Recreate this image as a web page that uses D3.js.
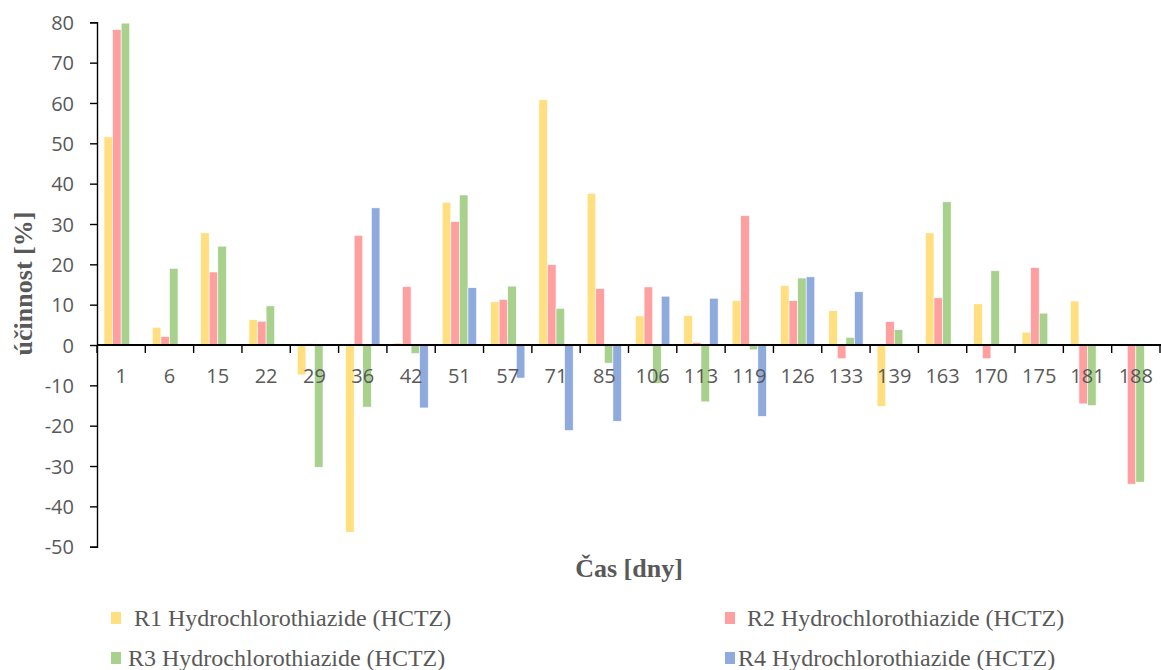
<!DOCTYPE html>
<html>
<head>
<meta charset="utf-8">
<script src="https://cdn.jsdelivr.net/npm/d3@7"></script>
<style>
  html, body { margin: 0; padding: 0; background: #fff; }
  svg { display: block; }
</style>
</head>
<body>
<svg id="chart" width="1161" height="670"></svg>
<script>
const categories = ["1","6","15","22","29","36","42","51","57","71","85","106","113","119","126","133","139","163","170","175","181","188"];
const seriesNames = ["R1 Hydrochlorothiazide (HCTZ)","R2 Hydrochlorothiazide (HCTZ)","R3 Hydrochlorothiazide (HCTZ)","R4 Hydrochlorothiazide (HCTZ)"];
const seriesColors = ["#FFDF80","#FF9F9F","#A9D18E","#8FAADC"];
const R1 = [51.6, 4.4, 27.8, 6.3, -7.4, -46.4, 0.5, 35.4, 10.7, 60.8, 37.6, 7.2, 7.3, 11.0, 14.7, 8.5, -15.2, 27.8, 10.2, 3.2, 10.9, 0.3];
const R2 = [78.2, 2.1, 18.1, 5.9, 0.3, 27.2, 14.5, 30.6, 11.3, 19.9, 14.0, 14.4, 0.6, 32.1, 11.0, -3.4, 5.8, 11.7, -3.4, 19.2, -14.6, -34.5];
const R3 = [79.8, 19.0, 24.5, 9.7, -30.3, -15.4, -2.1, 37.2, 14.6, 9.1, -4.5, -9.5, -14.1, -1.2, 16.6, 1.9, 3.8, 35.5, 18.4, 7.9, -15.0, -34.0];
const R4 = [null, null, null, null, null, 34.0, -15.6, 14.2, -8.2, -21.2, -18.9, 12.1, 11.6, -17.7, 16.9, 13.2, null, null, null, null, null, null];
const yTicks = [-50,-40,-30,-20,-10,0,10,20,30,40,50,60,70,80];
const xTitle = "Čas [dny]";
const yTitle = "účinnost [%]";

const allSeries = [R1, R2, R3, R4];
const svg = d3.select("#chart");
const plotLeft = 97, plotRight = 1160, plotTop = 22.3, plotBottom = 546.7;

const x0 = d3.scaleBand().domain(categories).range([plotLeft, plotRight]).padding(0);
const x1 = d3.scaleBand().domain(d3.range(4)).range([7, x0.bandwidth() - 7]).padding(0);
const y = d3.scaleLinear().domain([-50, 80]).range([plotBottom, plotTop]);

const textColor = "#595959";

// bars
allSeries.forEach((vals, si) => {
  svg.append("g").selectAll("rect")
    .data(categories.map((c, i) => ({c, v: vals[i]})).filter(d => d.v !== null))
    .join("rect")
    .attr("x", d => x0(d.c) + x1(si))
    .attr("width", x1.bandwidth())
    .attr("y", d => Math.min(y(d.v), y(0)))
    .attr("height", d => Math.abs(y(d.v) - y(0)))
    .attr("fill", seriesColors[si])
    .attr("stroke", "#fff")
    .attr("stroke-width", 0.6);
});

// y axis
const yAxis = d3.axisLeft(y).tickValues(yTicks).tickSize(7).tickPadding(16).tickFormat(d => String(d));
const gy = svg.append("g").attr("transform", `translate(${plotLeft},0)`).call(yAxis);
gy.select(".domain").attr("stroke", "#000").attr("stroke-width", 1.4);
gy.selectAll(".tick line").attr("stroke", "#000").attr("stroke-width", 1.4);
gy.selectAll(".tick text").attr("fill", textColor).attr("font-family", "'Open Sans', sans-serif").attr("font-size", 20).attr("dy", "0.36em");

// x axis at zero
const gx = svg.append("g");
gx.append("line").attr("x1", plotLeft).attr("x2", 1161).attr("y1", y(0)).attr("y2", y(0))
  .attr("stroke", "#000").attr("stroke-width", 2);
gx.selectAll("line.tk").data(categories.concat(["_end"])).join("line").attr("class", "tk")
  .attr("x1", (d) => d === "_end" ? plotRight : x0(d))
  .attr("x2", (d) => d === "_end" ? plotRight : x0(d))
  .attr("y1", y(0)).attr("y2", y(0) + 8)
  .attr("stroke", "#000").attr("stroke-width", 1.4);
gx.selectAll("text").data(categories).join("text")
  .attr("x", d => x0(d) + x0.bandwidth() / 2)
  .attr("y", 383)
  .attr("text-anchor", "middle")
  .attr("fill", textColor)
  .attr("font-family", "'Open Sans', sans-serif")
  .attr("font-size", 20)
  .text(d => d);

// titles
svg.append("text").attr("x", 629).attr("y", 577).attr("text-anchor", "middle")
  .attr("fill", textColor).attr("font-family", "'Liberation Serif', 'Times New Roman', serif")
  .attr("font-weight", "bold").attr("font-size", 26).text(xTitle);
svg.append("text").attr("transform", "translate(32,283.5) rotate(-90)").attr("text-anchor", "middle")
  .attr("fill", textColor).attr("font-family", "'Liberation Serif', 'Times New Roman', serif")
  .attr("font-weight", "bold").attr("font-size", 26).text(yTitle);

// legend
const legendPos = [
  {sx: 111, tx: 134, y: 626},
  {sx: 725, tx: 747, y: 626},
  {sx: 111, tx: 128, y: 666},
  {sx: 725, tx: 738, y: 666}
];
const lg = svg.append("g");
seriesNames.forEach((name, i) => {
  const p = legendPos[i];
  lg.append("rect").attr("x", p.sx).attr("y", p.y - 14).attr("width", 10).attr("height", 12)
    .attr("fill", seriesColors[i]);
  lg.append("text").attr("x", p.tx).attr("y", p.y)
    .attr("fill", textColor).attr("font-family", "'Liberation Serif', 'Times New Roman', serif")
    .attr("font-size", 24).text(name);
});
</script>
</body>
</html>
